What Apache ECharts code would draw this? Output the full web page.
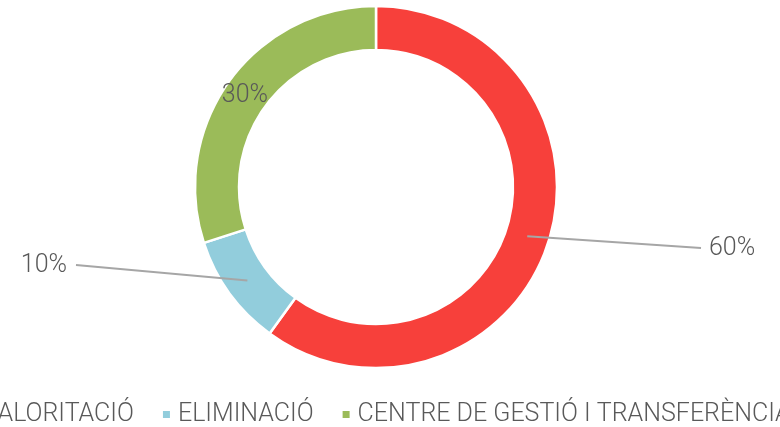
<!DOCTYPE html>
<html>
<head>
<meta charset="utf-8">
<script src="https://cdn.jsdelivr.net/npm/echarts@6/dist/echarts.min.js"></script>
<style>
  html, body { margin: 0; padding: 0; background: #fff; }
  #chart { width: 780px; height: 427px; }
</style>
</head>
<body>
<div id="chart"></div>
<script>
// Destinació dels residus (percentatge)
const categories = ['VALORITACIÓ', 'ELIMINACIÓ', 'CENTRE DE GESTIÓ I TRANSFERÈNCIA'];
const values = [60, 10, 30];
const colors = ['#F7403B', '#92CDDC', '#9BBB59'];

const FONT = 'Roboto, "Liberation Sans", sans-serif';
const TEXT_COLOR = '#595959';

const CENTER = [376, 187];
const R_IN = 137, R_OUT = 181;

const chart = echarts.init(document.getElementById('chart'), null, { renderer: 'canvas' });

// mid-angle (clockwise from 12 o'clock) of each slice, from the data
const total = values.reduce((a, b) => a + b, 0);
const midAngles = [];
let acc = 0;
values.forEach(v => { midAngles.push((acc + v / 2) / total * 2 * Math.PI); acc += v; });

function ringPoint(i) {
  const r = (R_IN + R_OUT) / 2;
  return [CENTER[0] + r * Math.sin(midAngles[i]), CENTER[1] - r * Math.cos(midAngles[i])];
}

// where the outside labels sit
const labelAnchors = {
  0: { x: 709, y: 249, gap: 8 },
  1: { x: 67, y: 266, gap: -9 }
};

const ringData = categories.map((name, i) => ({
  name, value: values[i], itemStyle: { color: colors[i] }
}));

// same slices again, invisible, carrying the labels so their leader lines sit over the ring
const labelData = categories.map((name, i) => {
  const item = { name, value: values[i] };
  if (i === 2) {
    item.label = { position: 'inside' };
    item.labelLine = { show: false };
  }
  return item;
});

const common = {
  type: 'pie',
  center: CENTER,
  radius: [R_IN, R_OUT],
  startAngle: 90,
  clockwise: true,
  avoidLabelOverlap: false,
  emphasis: { disabled: true },
  silent: true
};

chart.setOption({
  animation: false,
  textStyle: { fontFamily: FONT },
  legend: {
    top: 397,
    left: -39,
    width: 1200,
    icon: 'rect',
    itemWidth: 9,
    itemHeight: 9,
    itemGap: 27,
    data: categories.map((name, i) => ({ name, itemStyle: { color: colors[i] } })),
    textStyle: { fontSize: 25, fontWeight: 300, color: TEXT_COLOR, fontFamily: FONT, padding: [0, 0, 9, 2] }
  },
  series: [
    Object.assign({}, common, {
      name: 'ring',
      z: 2,
      itemStyle: { borderColor: '#fff', borderWidth: 2.5 },
      label: { show: false },
      labelLine: { show: false },
      data: ringData
    }),
    Object.assign({}, common, {
      name: 'labels',
      z: 3,
      itemStyle: { color: 'rgba(0,0,0,0)', borderWidth: 0 },
      label: {
        show: true,
        formatter: '{c}%',
        fontSize: 25,
        fontWeight: 300,
        color: TEXT_COLOR,
        fontFamily: FONT
      },
      labelLine: {
        show: true,
        showAbove: true,
        lineStyle: { color: '#A6A6A6', width: 2 }
      },
      labelLayout: function (params) {
        const a = labelAnchors[params.dataIndex];
        if (!a) return { dy: 4 };
        const start = ringPoint(params.dataIndex);
        const end = [a.x - a.gap, a.y - 1];
        return {
          x: a.x,
          y: a.y,
          labelLinePoints: [start, start, end]
        };
      },
      data: labelData
    })
  ]
});
</script>
</body>
</html>
